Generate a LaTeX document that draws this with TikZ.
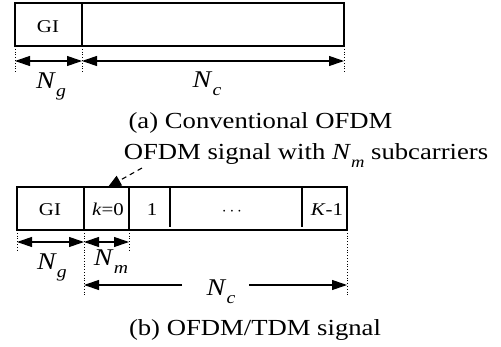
\documentclass[tikz,border=0pt]{standalone}
\usepackage{fontspec}
\setmainfont{Liberation Serif}
\usetikzlibrary{arrows.meta}
\newcommand{\wide}[1]{\scalebox{1.16}[1]{#1}}
\newcommand{\dimlbl}[2]{\wide{\fontsize{24}{28}\selectfont\textit{#1}\raisebox{-8pt}{\fontsize{17}{20}\selectfont\textit{#2}}}}
\tikzset{
  boxline/.style={line width=1.3pt},
  dotline/.style={line width=0.8pt, dotted},
  dimarrow/.style={line width=1.1pt, {Triangle[length=15pt,width=10pt]}-{Triangle[length=15pt,width=10pt]}},
  halfarrow/.style={line width=1.1pt, -{Triangle[length=15pt,width=10pt]}},
  celltext/.style={anchor=base, inner sep=0pt, font=\fontsize{18}{22}\selectfont},
  dimtext/.style={anchor=base, inner sep=0pt},
  captext/.style={anchor=base, inner sep=0pt, font=\fontsize{23}{27}\selectfont},
  pointer/.style={line width=1.1pt, dash pattern=on 5pt off 4pt, -{Triangle[length=13pt,width=11pt]}}
}
\begin{document}
\begin{tikzpicture}[x=1pt,y=-1pt]
\useasboundingbox (0,0) rectangle (501,346);
% ---------- (a) conventional OFDM ----------
\draw[boxline] (15,3) rectangle (344,46);
\draw[boxline] (82,3) -- (82,46);
\node[celltext] (gia) at (48,32) {\wide{GI}};
\draw[dotline] (15,46) -- (15,72);
\draw[dotline] (82,46) -- (82,72);
\draw[dotline] (344,46) -- (344,72);
\coordinate (ta0) at (15,61);
\coordinate (ta1) at (82,61);
\coordinate (ta2) at (344,61);
\draw[dimarrow] (ta0) -- (ta1);
\draw[dimarrow] (ta1) -- (ta2);
\node[dimtext] (nga) at (51,88) {\dimlbl{N}{g}};
\node[dimtext] (nca) at (207,87) {\dimlbl{N}{c}};
\node[captext] (capa) at (260.5,128) {\wide{(a) Conventional OFDM}};
% ---------- (b) OFDM/TDM ----------
\node[captext] (sub) at (306,159) {\wide{OFDM signal with \textit{N}\raisebox{-8pt}{\fontsize{16}{19}\selectfont\textit{m}} subcarriers}};
\draw[boxline] (17,187) rectangle (347,230);
\draw[boxline] (84,187) -- (84,230);
\draw[boxline] (129,187) -- (129,230);
\draw[boxline] (170,187) -- (170,227);
\draw[boxline] (302,187) -- (302,227);
\node[celltext] (gib) at (50,215) {\wide{GI}};
\node[celltext] (k0) at (108,215) {\wide{\textit{k}=0}};
\node[celltext] (k1) at (152,215) {\wide{1}};
\node[celltext] (kd) at (232,215) {$\cdots$};
\node[celltext] (kK) at (327,215) {\wide{\textit{K}-1}};
\coordinate (ptrstart) at (142,168);
\coordinate (ptrend) at (108,187);
\draw[pointer] (ptrstart) -- (ptrend);
\draw[dotline] (17,230) -- (17,250);
\draw[dotline] (84,230) -- (84,295);
\draw[dotline] (129,230) -- (129,250);
\draw[dotline] (347,230) -- (347,295);
\coordinate (tb0) at (17,242);
\coordinate (tb1) at (84,242);
\coordinate (tb2) at (129,242);
\draw[dimarrow] (tb0) -- (tb1);
\draw[dimarrow] (tb1) -- (tb2);
\node[dimtext] (ngb) at (52,269) {\dimlbl{N}{g}};
\node[dimtext] (nmb) at (111,265) {\dimlbl{N}{m}};
\node[dimtext] (ncb) at (221,295) {\dimlbl{N}{c}};
\coordinate (cl) at (84,285);
\coordinate (clg) at (182,285);
\coordinate (crg) at (249,285);
\coordinate (cr) at (347,285);
\draw[halfarrow] (clg) -- (cl);
\draw[halfarrow] (crg) -- (cr);
\node[captext] (capb) at (255,335) {\wide{(b) OFDM/TDM signal}};
\end{tikzpicture}
\end{document}
